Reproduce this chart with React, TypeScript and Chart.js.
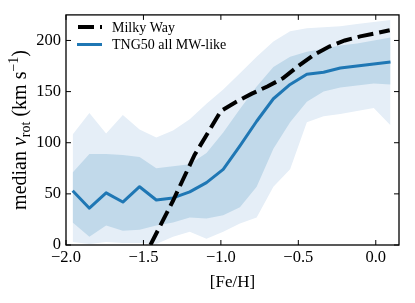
import { useEffect, useRef } from 'react';
import { Chart, registerables } from 'chart.js';

Chart.register(...registerables);

const FONT = '"Liberation Serif", "DejaVu Serif", serif';

// TNG50 binned metallicity grid
const feh = [-1.957, -1.849, -1.741, -1.633, -1.525, -1.417, -1.309, -1.201, -1.093, -0.985,
  -0.877, -0.769, -0.661, -0.553, -0.445, -0.337, -0.229, -0.121, -0.013, 0.095];
const median = [53, 36, 51, 42, 57, 44, 46, 52, 61, 74, 97, 121, 143, 157, 167, 169, 173, 175, 177, 179];
const p25 = [22, 8, 19, 14, 15, 19, 22, 27, 26, 29, 37, 57, 94, 120, 140, 150, 154, 156, 158, 157];
const p75 = [71, 89, 89, 88, 86, 75, 77, 79, 90, 110, 133, 155, 174, 184, 189, 192, 195, 197, 200, 203];
const p5 = [3, 1, 3, 2, 2, 1, 8, 13, 6, 13, 21, 27, 57, 74, 120, 126, 128, 131, 134, 117];
const p95 = [108, 129, 109, 127, 113, 105, 112, 123, 138, 152, 168, 184, 199, 209, 212, 213, 214, 216, 218, 220];

// Milky Way
const mwFeh = [-1.455, -1.31, -1.17, -1.0, -0.9, -0.8, -0.7, -0.6, -0.5, -0.4, -0.3, -0.2, -0.1, 0.0, 0.09];
const mwVrot = [0, 43, 88, 131, 140, 148, 155, 163, 175, 186, 194, 200, 204, 207, 210];

const xTicks = [-2.0, -1.5, -1.0, -0.5, 0.0];
const yTicks = [0, 50, 100, 150, 200];
const legendLabels = ['Milky Way', 'TNG50 all MW-like'];

const BLUE = '#1f77b4';
const LIGHT = '#e5eef7';
const DARK = '#c1d9ea';

const pts = (xs: number[], ys: number[]) => xs.map((x, i) => ({ x, y: ys[i] }));

const decor = {
  id: 'decor',
  afterDatasetsDraw(chart: any) {
    const { ctx, chartArea, scales } = chart;
    const { left, right, top, bottom } = chartArea;
    const x = scales.x;
    const y = scales.y;
    ctx.save();
    ctx.strokeStyle = '#000';
    ctx.lineWidth = 1;
    ctx.setLineDash([]);
    const line = (x1: number, y1: number, x2: number, y2: number) => {
      ctx.beginPath();
      ctx.moveTo(x1, y1);
      ctx.lineTo(x2, y2);
      ctx.stroke();
    };
    for (const v of xTicks) {
      const px = x.getPixelForValue(v);
      line(px, bottom, px, bottom - 5);
      line(px, top, px, top + 5);
    }
    for (const v of yTicks) {
      const py = y.getPixelForValue(v);
      line(left, py, left + 5, py);
      line(right, py, right - 5, py);
    }
    ctx.lineWidth = 1.3;
    ctx.strokeRect(left, top, right - left, bottom - top);

    // legend
    ctx.lineCap = 'butt';
    ctx.strokeStyle = '#000';
    ctx.lineWidth = 4;
    ctx.setLineDash([16, 6]);
    line(78, 27, 102, 27);
    ctx.setLineDash([]);
    ctx.strokeStyle = BLUE;
    ctx.lineWidth = 3;
    line(77, 44.5, 102, 44.5);
    ctx.fillStyle = '#000';
    ctx.font = '14px ' + FONT;
    ctx.textBaseline = 'middle';
    ctx.textAlign = 'left';
    ctx.fillText(legendLabels[0], 112, 28);
    ctx.fillText(legendLabels[1], 112, 45);

    // x title
    ctx.font = '17px ' + FONT;
    ctx.textAlign = 'center';
    ctx.fillText('[Fe/H]', (left + right) / 2, 283);

    // y title (rich text), sized to span ~160px
    const base = 16;
    const mk = (k: number) => [
      { t: 'median ', f: `${base * k}px ${FONT}`, dy: 0 },
      { t: 'v', f: `italic ${base * k}px ${FONT}`, dy: 0 },
      { t: 'rot', f: `${base * k * 0.7}px ${FONT}`, dy: 3.5 * k },
      { t: ' (km s', f: `${base * k}px ${FONT}`, dy: 0 },
      { t: '\u22121', f: `${base * k * 0.7}px ${FONT}`, dy: -6.5 * k },
      { t: ')', f: `${base * k}px ${FONT}`, dy: 0 },
    ];
    const width = (segs: any[]) => {
      let w = 0;
      for (const s of segs) {
        ctx.font = s.f;
        w += ctx.measureText(s.t).width;
      }
      return w;
    };
    const k = 160 / width(mk(1));
    const segs = mk(k);
    const total = width(segs);
    ctx.translate(26, (top + bottom) / 2);
    ctx.rotate(-Math.PI / 2);
    ctx.textAlign = 'left';
    ctx.textBaseline = 'alphabetic';
    let cx = -total / 2;
    for (const s of segs) {
      ctx.font = s.f;
      ctx.fillText(s.t, cx, s.dy);
      cx += ctx.measureText(s.t).width;
    }
    ctx.restore();
  },
};

export default function App() {
  const ref = useRef<HTMLCanvasElement | null>(null);
  useEffect(() => {
    if (!ref.current) return;
    Chart.defaults.color = '#000';
    const chart = new Chart(ref.current, {
      type: 'line',
      data: {
        datasets: [
          { data: pts(feh, p5), borderColor: 'transparent', borderWidth: 0, pointRadius: 0, fill: false, order: 5 },
          { data: pts(feh, p95), borderColor: 'transparent', borderWidth: 0, pointRadius: 0, fill: '-1', backgroundColor: LIGHT, order: 4 },
          { data: pts(feh, p25), borderColor: 'transparent', borderWidth: 0, pointRadius: 0, fill: false, order: 3 },
          { data: pts(feh, p75), borderColor: 'transparent', borderWidth: 0, pointRadius: 0, fill: '-1', backgroundColor: DARK, order: 2 },
          { data: pts(feh, median), borderColor: BLUE, borderWidth: 3, pointRadius: 0, fill: false, order: 1, borderJoinStyle: 'round' },
          { data: pts(mwFeh, mwVrot), borderColor: '#000', borderWidth: 4, borderDash: [16, 6], borderCapStyle: 'butt', pointRadius: 0, fill: false, order: 0 },
        ] as any,
      },
      options: {
        animation: false,
        responsive: true,
        maintainAspectRatio: false,
        layout: { padding: { top: 11, right: 16, left: 0, bottom: 0 } },
        plugins: { legend: { display: false }, tooltip: { enabled: false } },
        elements: { line: { tension: 0 } },
        scales: {
          x: {
            type: 'linear',
            min: -2.0,
            max: 0.15,
            grid: { display: false, drawTicks: false },
            border: { display: false },
            afterBuildTicks: (s: any) => { s.ticks = xTicks.map((value) => ({ value })); },
            afterFit: (s: any) => { s.height = 58; },
            ticks: {
              autoSkip: false,
              maxRotation: 0,
              padding: 3,
              font: { family: FONT, size: 16.5 },
              callback: (v: any) => (v < 0 ? '\u2212' : '') + Math.abs(Number(v)).toFixed(1),
            },
          },
          y: {
            type: 'linear',
            min: 0,
            max: 225,
            grid: { display: false, drawTicks: false },
            border: { display: false },
            afterBuildTicks: (s: any) => { s.ticks = yTicks.map((value) => ({ value })); },
            afterFit: (s: any) => { s.width = 66; },
            ticks: {
              autoSkip: false,
              padding: 5,
              font: { family: FONT, size: 16.5 },
              callback: (v: any) => String(v),
            },
          },
        },
      } as any,
      plugins: [decor],
    });
    return () => chart.destroy();
  }, []);
  return (
    <div style={{ position: 'fixed', left: 0, top: 0, width: 415, height: 303, background: '#fff' }}>
      <canvas ref={ref} />
    </div>
  );
}
